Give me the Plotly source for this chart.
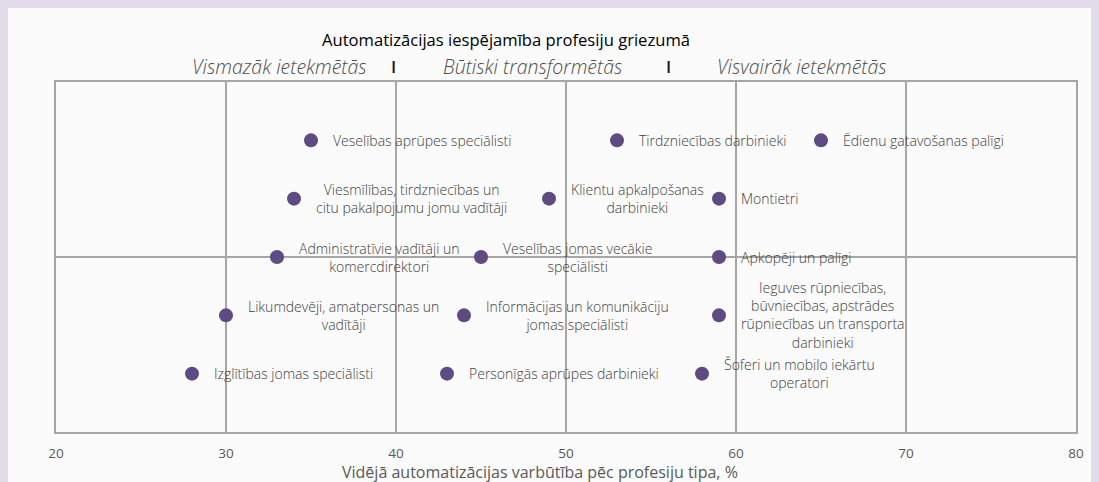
import plotly.graph_objects as go

# Data
professions = [
    "Veselības aprūpes speciālisti",
    "Tirdzniecības darbinieki",
    "Ēdienu gatavošanas palīgi",
    "Viesmīlības, tirdzniecības un<br>citu pakalpojumu jomu vadītāji",
    "Klientu apkalpošanas<br>darbinieki",
    "Montietri",
    "Administratīvie vadītāji un<br>komercdirektori",
    "Veselības jomas vecākie<br>speciālisti",
    "Apkopēji un palīgi",
    "Likumdevēji, amatpersonas un<br>vadītāji",
    "Informācijas un komunikāciju<br>jomas speciālisti",
    "Ieguves rūpniecības,<br>būvniecības, apstrādes<br>rūpniecības un transporta<br>darbinieki",
    "Izglītības jomas speciālisti",
    "Personīgās aprūpes darbinieki",
    "Šoferi un mobilo iekārtu<br>operatori",
]
automation_pct = [35, 53, 65, 34, 49, 59, 33, 45, 59, 30, 44, 59, 28, 43, 58]
row_level = [5, 5, 5, 4, 4, 4, 3, 3, 3, 2, 2, 2, 1, 1, 1]
x_ticks = [20, 30, 40, 50, 60, 70, 80]

title_text = "Automatizācijas iespējamība profesiju griezumā"
group_labels = ["Vismazāk ietekmētās", "Būtiski transformētās", "Visvairāk ietekmētās"]
x_title = "Vidējā automatizācijas varbūtība pēc profesiju tipa, %"

FONT = "Open Sans"
GRID = "#a6a6a6"
PURPLE = "#5f4a82"
PANEL = "#fbfbfb"
OUTER = "#e2dcea"

# Layout geometry (figure pixels)
W, H = 1099, 482
ML, MR, MT, MB = 48, 31, 74, 58
PW, PH = W - ML - MR, H - MT - MB


def px_to_paper_x(px):
    return (px - ML) / PW


def px_to_paper_y(py):
    return (H - MB - py) / PH


fig = go.Figure()
fig.add_trace(go.Scatter(
    x=automation_pct, y=row_level, mode="markers",
    marker=dict(size=14, color=PURPLE),
    hovertext=[p.replace("<br>", " ") for p in professions], hoverinfo="text",
    showlegend=False,
))

for name, xv, yv in zip(professions, automation_pct, row_level):
    fig.add_annotation(
        x=xv, y=yv, xref="x", yref="y", text=name, showarrow=False,
        xanchor="left", yanchor="middle", xshift=20, align="center",
        font=dict(family=FONT, size=14, color="#404040", weight=300),
    )

# Title
fig.add_annotation(
    x=px_to_paper_x(498), y=px_to_paper_y(32), xref="paper", yref="paper",
    text=title_text, showarrow=False, xanchor="center", yanchor="middle",
    font=dict(family=FONT, size=16.6, color="#000000"),
)
# Group labels and separators
group_centers = [271, 524, 794]
for lbl, cx in zip(group_labels, group_centers):
    fig.add_annotation(
        x=px_to_paper_x(cx), y=px_to_paper_y(59), xref="paper", yref="paper",
        text="<i>" + lbl + "</i>", showarrow=False, xanchor="center", yanchor="middle",
        font=dict(family=FONT, size=19.5, color="#4d4d4d", weight=300),
    )
for sx in [385, 660]:
    fig.add_annotation(
        x=px_to_paper_x(sx), y=px_to_paper_y(59), xref="paper", yref="paper",
        text="I", showarrow=False, xanchor="center", yanchor="middle",
        font=dict(family=FONT, size=17, color="#1a1a1a", weight=600),
    )

# X-axis title
fig.add_annotation(
    x=px_to_paper_x(532), y=px_to_paper_y(464), xref="paper", yref="paper",
    text=x_title, showarrow=False, xanchor="center", yanchor="middle",
    font=dict(family=FONT, size=16, color="#595959"),
)

fig.update_layout(
    width=W, height=H,
    margin=dict(l=ML, r=MR, t=MT, b=MB),
    paper_bgcolor=PANEL, plot_bgcolor=PANEL,
    font=dict(family=FONT, color="#595959"),
    xaxis=dict(
        range=[20, 80], tickvals=x_ticks, ticktext=[str(v) for v in x_ticks],
        showgrid=True, gridcolor=GRID, gridwidth=2, zeroline=False,
        showline=True, linecolor=GRID, linewidth=2, mirror=True,
        ticks="outside", ticklen=8, tickcolor="rgba(0,0,0,0)",
        tickfont=dict(family=FONT, size=13.5, color="#595959"),
        fixedrange=True,
    ),
    yaxis=dict(
        range=[0, 6], tickvals=[0, 3, 6], showticklabels=False,
        showgrid=True, gridcolor=GRID, gridwidth=2, zeroline=False,
        showline=True, linecolor=GRID, linewidth=2, mirror=True,
        fixedrange=True,
    ),
)

fig.write_html(
    "out.html",
    post_script="document.body.style.background='" + OUTER + "';",
)
